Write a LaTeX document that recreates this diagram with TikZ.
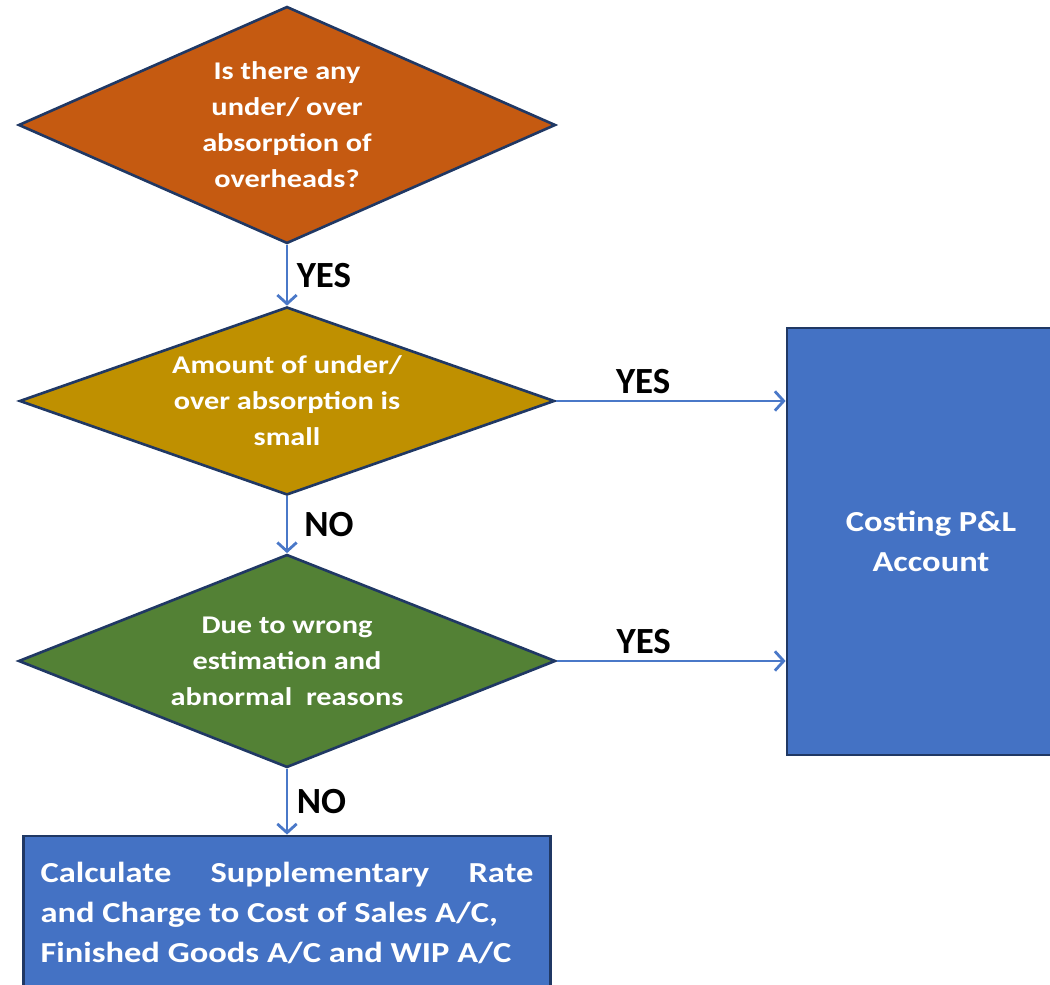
\documentclass[tikz,border=0pt]{standalone}
\usepackage{fontspec}
\setmainfont{Carlito}
\newfontfamily\widefont{Carlito}[FakeStretch=1.19]
\usetikzlibrary{shapes.geometric,arrows.meta}
\definecolor{rustorange}{HTML}{C55A11}
\definecolor{mustard}{HTML}{BF9000}
\definecolor{leafgreen}{HTML}{538135}
\definecolor{boxblue}{HTML}{4472C4}
\definecolor{navyline}{HTML}{203864}
\definecolor{flowblue}{HTML}{4A78C8}
\begin{document}
\begin{tikzpicture}
  \tikzset{DecisionStyle/.style = {shape = diamond,draw = navyline,line width = 1.5pt,inner sep = -1cm,text = white,align = center,font = \widefont\fontsize{14.5}{20.5}\selectfont\bfseries}}
  \tikzset{AccountStyle/.style = {shape = rectangle,draw = navyline,line width = 1.6pt,fill = boxblue,text = white,font = \widefont\fontsize{16.5}{23}\selectfont\bfseries}}
  \tikzset{FlowStyle/.style = {draw = flowblue,line width = 1.6pt,-{Straight Barb[length=5pt,width=11pt,line width=1.6pt]}}}
  \tikzset{AnswerStyle/.style = {text = black,font = \fontsize{21}{24}\selectfont\bfseries}}
\useasboundingbox (0,0) rectangle (21,-19.7);
\node[DecisionStyle,fill=rustorange,minimum width=10.74cm,minimum height=4.74cm] (q1) at (5.74,-2.50) {Is there any\\under/ over\\absorption of\\overheads?};
\node[DecisionStyle,fill=mustard,minimum width=10.70cm,minimum height=3.76cm] (q2) at (5.74,-8.02) {Amount of under/\\over absorption is\\small};
\node[DecisionStyle,fill=leafgreen,minimum width=10.74cm,minimum height=4.26cm] (q3) at (5.74,-13.22) {Due to wrong\\estimation and\\abnormal~ reasons};
\node[AccountStyle,align=center,minimum width=5.76cm,minimum height=8.54cm] (pl) at (18.62,-10.83) {Costing P\&L\\Account};
\node[AccountStyle,align=justify,text width=9.86cm,inner xsep=0.34cm,minimum height=3.08cm] (supp) at (5.74,-18.26) {Calculate Supplementary Rate\linebreak and Charge to Cost of Sales A/C,\\Finished Goods A/C and WIP A/C};
%
\draw[FlowStyle] (q1) -- node[AnswerStyle,right,xshift=0.05cm]{YES} (q2);
\draw[FlowStyle] (q2) -- node[AnswerStyle,right,xshift=0.2cm]{NO} (q3);
\draw[FlowStyle] (q3) -- node[AnswerStyle,right,xshift=0.05cm]{NO} (supp);
\draw[FlowStyle] (q2.east) -- node[AnswerStyle,above,pos=0.38]{YES} (q2.east -| pl.west);
\draw[FlowStyle] (q3.east) -- node[AnswerStyle,above,pos=0.38]{YES} (q3.east -| pl.west);
\end{tikzpicture}
\end{document}
